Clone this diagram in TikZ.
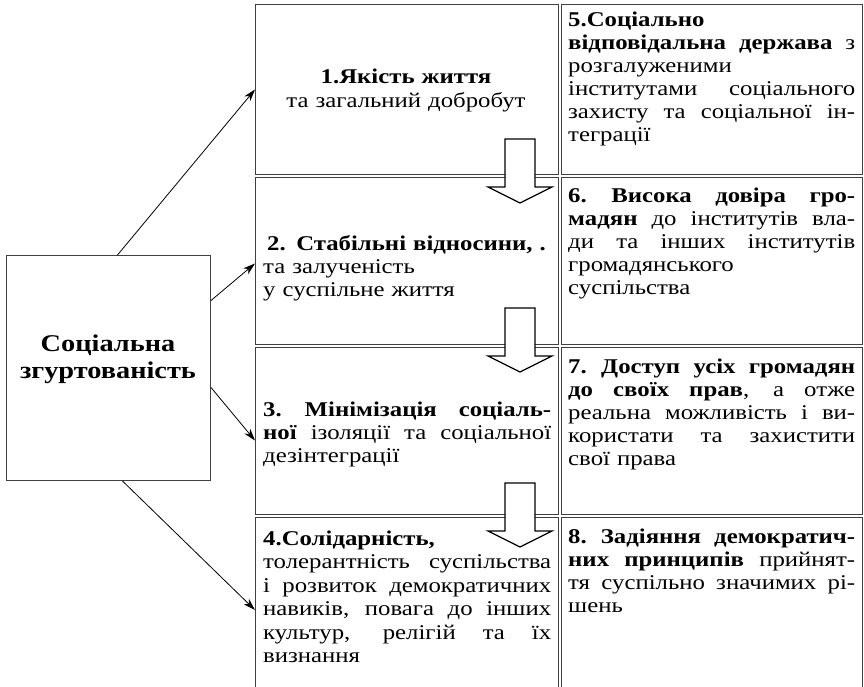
\documentclass[tikz,border=0pt]{standalone}
\usepackage{fontspec}
\setmainfont{Liberation Serif}[FakeStretch=1.18]
\usetikzlibrary{arrows.meta}
\newcommand{\jm}[1]{\leavevmode\hbox to 288pt{\spaceskip=.25em plus 4em\xspaceskip=.3em plus 4em #1}}
\newcommand{\jr}[1]{\leavevmode\hbox to 287pt{\spaceskip=.25em plus 4em\xspaceskip=.3em plus 4em #1}}
\begin{document}
\begin{tikzpicture}[x=1pt,y=-1pt,
  cellbox/.style={draw=black!75, line width=1pt, inner sep=0, anchor=north west},
  txt/.style={inner sep=0, anchor=base west, align=left, text width=#1,
    font=\fontsize{21pt}{23pt}\selectfont},
  ctxt/.style={inner sep=0, anchor=base, align=center, text width=#1,
    font=\fontsize{21pt}{23pt}\selectfont},
  conn/.style={draw=black, line width=0.8pt, -{Stealth[length=12pt,width=7.5pt,inset=3.5pt]}},
  blockarrow/.style={draw=black, line width=1.3pt, fill=white, line join=miter}]
\useasboundingbox (0,0) rectangle (864,687);
\clip (0,0) rectangle (864,687);
\fill[white] (0,0) rectangle (864,687);

% left box
\node[cellbox, minimum width=204pt, minimum height=225pt] (lb) at (6,255) {};
\node[ctxt=200pt, font=\fontsize{24pt}{27pt}\selectfont] (lbt) at (108,351) {\textbf{Соціальна}\\\textbf{згуртованість}};

% middle column
\node[cellbox, minimum width=303pt, minimum height=170pt] (b1) at (255,4) {};
\node[cellbox, minimum width=303pt, minimum height=167pt] (b2) at (255,177) {};
\node[cellbox, minimum width=303pt, minimum height=167pt] (b3) at (255,347) {};
\node[cellbox, minimum width=303pt, minimum height=185pt] (b4) at (255,517) {};
% right column
\node[cellbox, minimum width=301pt, minimum height=170pt] (b5) at (561,4) {};
\node[cellbox, minimum width=301pt, minimum height=167pt] (b6) at (561,177) {};
\node[cellbox, minimum width=301pt, minimum height=167pt] (b7) at (561,347) {};
\node[cellbox, minimum width=301pt, minimum height=185pt] (b8) at (561,517) {};

% texts
\node[ctxt=300pt, font=\fontsize{21pt}{24pt}\selectfont] (t1) at (406,84) {\textbf{1.Якість життя}\\та загальний добробут};
\node[txt=292pt] (t2) at (263,250) {\hspace*{4pt}\textbf{2. Стабільні відносини, .}\\та залученість\\у суспільне життя};
\node[txt=288pt] (t3) at (263,416) {\jm{\textbf{3. Мінімізація соціаль-}}\\\jm{\textbf{ної} ізоляції та соціальної}\\дезінтеграції};
\node[txt=288pt, font=\fontsize{21pt}{23.5pt}\selectfont] (t4) at (263,545) {\textbf{4.Солідарність,}\\\jm{толерантність суспільства}\\\jm{і розвиток демократичних}\\\jm{навиків, повага до інших}\\\jm{культур, релігій та їх}\\визнання};
\node[txt=287pt] (t5) at (568,27) {\textbf{5.Соціально}\\\jr{\textbf{відповідальна держава} з}\\розгалуженими\\\jr{інститутами соціального}\\\jr{захисту та соціальної ін-}\\теграції};
\node[txt=287pt] (t6) at (568,203) {\jr{\textbf{6. Висока довіра гро-}}\\\jr{\textbf{мадян} до інститутів вла-}\\\jr{ди та інших інститутів}\\громадянського\\суспільства};
\node[txt=287pt] (t7) at (568,373) {\jr{\textbf{7. Доступ усіх громадян}}\\\jr{\textbf{до своїх прав}, а отже}\\\jr{реальна можливість і ви-}\\\jr{користати та захистити}\\свої права};
\node[txt=287pt] (t8) at (568,543) {\jr{\textbf{8. Задіяння демократич-}}\\\jr{\textbf{них принципів} прийнят-}\\\jr{тя суспільно значимих рі-}\\шень};

% block arrows
\foreach \t in {139,308,483}{
  \path[blockarrow] (505,\t) -- (535,\t) -- (535,{\t+48}) -- (552,{\t+48}) -- (520,{\t+64}) -- (488,{\t+48}) -- (505,{\t+48}) -- cycle;
}

% connectors
\coordinate (s1) at ([xshift=9pt]lb.north);
\coordinate (s2) at ([yshift=67.5pt]lb.east);
\coordinate (s3) at ([yshift=-19.5pt]lb.east);
\coordinate (s4) at ([xshift=14pt]lb.south);
\coordinate (e2) at ([yshift=-2.5pt]b2.west);
\coordinate (e3) at ([yshift=-9.5pt]b3.west);
\coordinate (e4) at (b4.north west |- 0,610);
\draw[conn] (s1) -- (b1.west);
\draw[conn] (s2) -- (e2);
\draw[conn] (s3) -- (e3);
\draw[conn] (s4) -- (e4);
\end{tikzpicture}
\end{document}
